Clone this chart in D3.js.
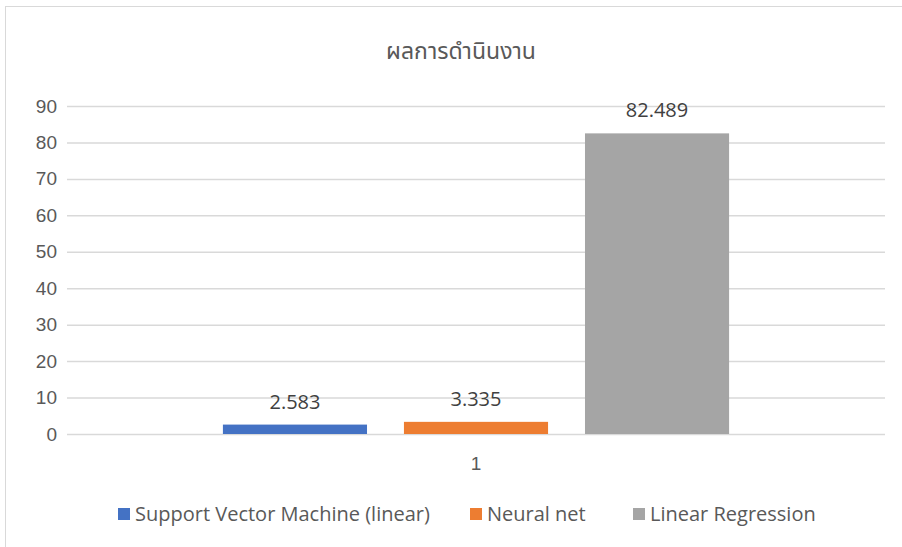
<!DOCTYPE html>
<html>
<head>
<meta charset="utf-8">
<script src="https://cdn.jsdelivr.net/npm/d3@7"></script>
<style>
  body { margin: 0; background: #fff; }
  svg { display: block; font-family: "Segoe UI", "Open Sans", "Noto Sans", "Noto Sans Thai", sans-serif; }
</style>
</head>
<body>
<svg></svg>
<script>
const categories = ['1'];
const seriesNames = ['Support Vector Machine (linear)', 'Neural net', 'Linear Regression'];
const seriesValues = [2.583, 3.335, 82.489];
const seriesColors = ['#4472c4', '#ed7d31', '#a5a5a5'];
const yTicks = [0, 10, 20, 30, 40, 50, 60, 70, 80, 90];
const titleText = 'ผลการดำนินงาน';

const W = 902, H = 547;
const margins = { left: 67, right: 17, top: 106, bottom: 113 };
const plotW = W - margins.left - margins.right;
const plotH = H - margins.top - margins.bottom;

const svg = d3.select('svg').attr('width', W).attr('height', H);

// outer chart border
svg.append('rect')
    .attr('x', 5.5).attr('y', 6.5)
    .attr('width', W + 20).attr('height', H + 20)
    .attr('fill', '#fff')
    .attr('stroke', '#d9d9d9')
    .attr('stroke-width', 1);

svg.append('text')
    .attr('x', 461).attr('y', 59)
    .attr('text-anchor', 'middle')
    .attr('fill', '#595959')
    .style('font-size', '23px')
    .text(titleText);

const chart = svg.append('g')
    .attr('transform', `translate(${margins.left},${margins.top})`);

const yScale = d3.scaleLinear().domain([0, 90]).range([plotH, 0]);
const x0 = d3.scaleBand().domain(categories).range([0, plotW]).paddingInner(0).paddingOuter(0.308);
const x1 = d3.scaleBand().domain(seriesNames).range([0, x0.bandwidth()]).paddingInner(0.204).paddingOuter(0);
const color = d3.scaleOrdinal().domain(seriesNames).range(seriesColors);

// grid lines
const yGrid = d3.axisLeft(yScale).tickValues(yTicks).tickFormat('').tickSize(-plotW);
const gGrid = chart.append('g').attr('class', 'grid').call(yGrid);
gGrid.select('.domain').remove();
gGrid.selectAll('line').attr('stroke', '#d9d9d9').attr('stroke-width', 1.5);

// y axis labels
const yAxis = d3.axisLeft(yScale).tickValues(yTicks).tickSize(0).tickPadding(10);
const gY = chart.append('g').call(yAxis);
gY.select('.domain').remove();
gY.selectAll('text')
    .attr('fill', '#595959')
    .style('font-size', '19px')
    .style('font-family', 'inherit');

// x axis labels
const xAxis = d3.axisBottom(x0).tickSize(0).tickPadding(23);
const gX = chart.append('g').attr('transform', `translate(0,${plotH})`).call(xAxis);
gX.select('.domain').remove();
gX.selectAll('text')
    .attr('fill', '#595959')
    .style('font-size', '19px')
    .style('font-family', 'inherit');

// bars
const group = chart.append('g')
    .attr('transform', `translate(${x0(categories[0])},0)`);

group.selectAll('rect')
    .data(seriesValues)
    .enter()
    .append('rect')
    .attr('x', (d, i) => x1(seriesNames[i]))
    .attr('y', (d) => yScale(d))
    .attr('width', x1.bandwidth())
    .attr('height', (d) => plotH - yScale(d))
    .attr('fill', (d, i) => color(seriesNames[i]));

group.selectAll('.value')
    .data(seriesValues)
    .enter()
    .append('text')
    .attr('class', 'value')
    .attr('x', (d, i) => x1(seriesNames[i]) + x1.bandwidth() / 2)
    .attr('y', (d) => yScale(d) - 16)
    .attr('text-anchor', 'middle')
    .attr('fill', '#404040')
    .style('font-size', '20px')
    .text((d) => d3.format('.3f')(d));

// legend
const legendX = [118, 470, 633];
const legend = svg.append('g').attr('transform', 'translate(0,514)');
const items = legend.selectAll('g')
    .data(seriesNames)
    .enter()
    .append('g')
    .attr('transform', (d, i) => `translate(${legendX[i]},0)`);
items.append('rect')
    .attr('x', 0).attr('y', -6)
    .attr('width', 12).attr('height', 12)
    .attr('fill', (d) => color(d));
items.append('text')
    .attr('x', 17).attr('y', 0)
    .attr('dy', '0.35em')
    .attr('fill', '#595959')
    .style('font-size', '20px')
    .text((d) => d);
</script>
</body>
</html>
